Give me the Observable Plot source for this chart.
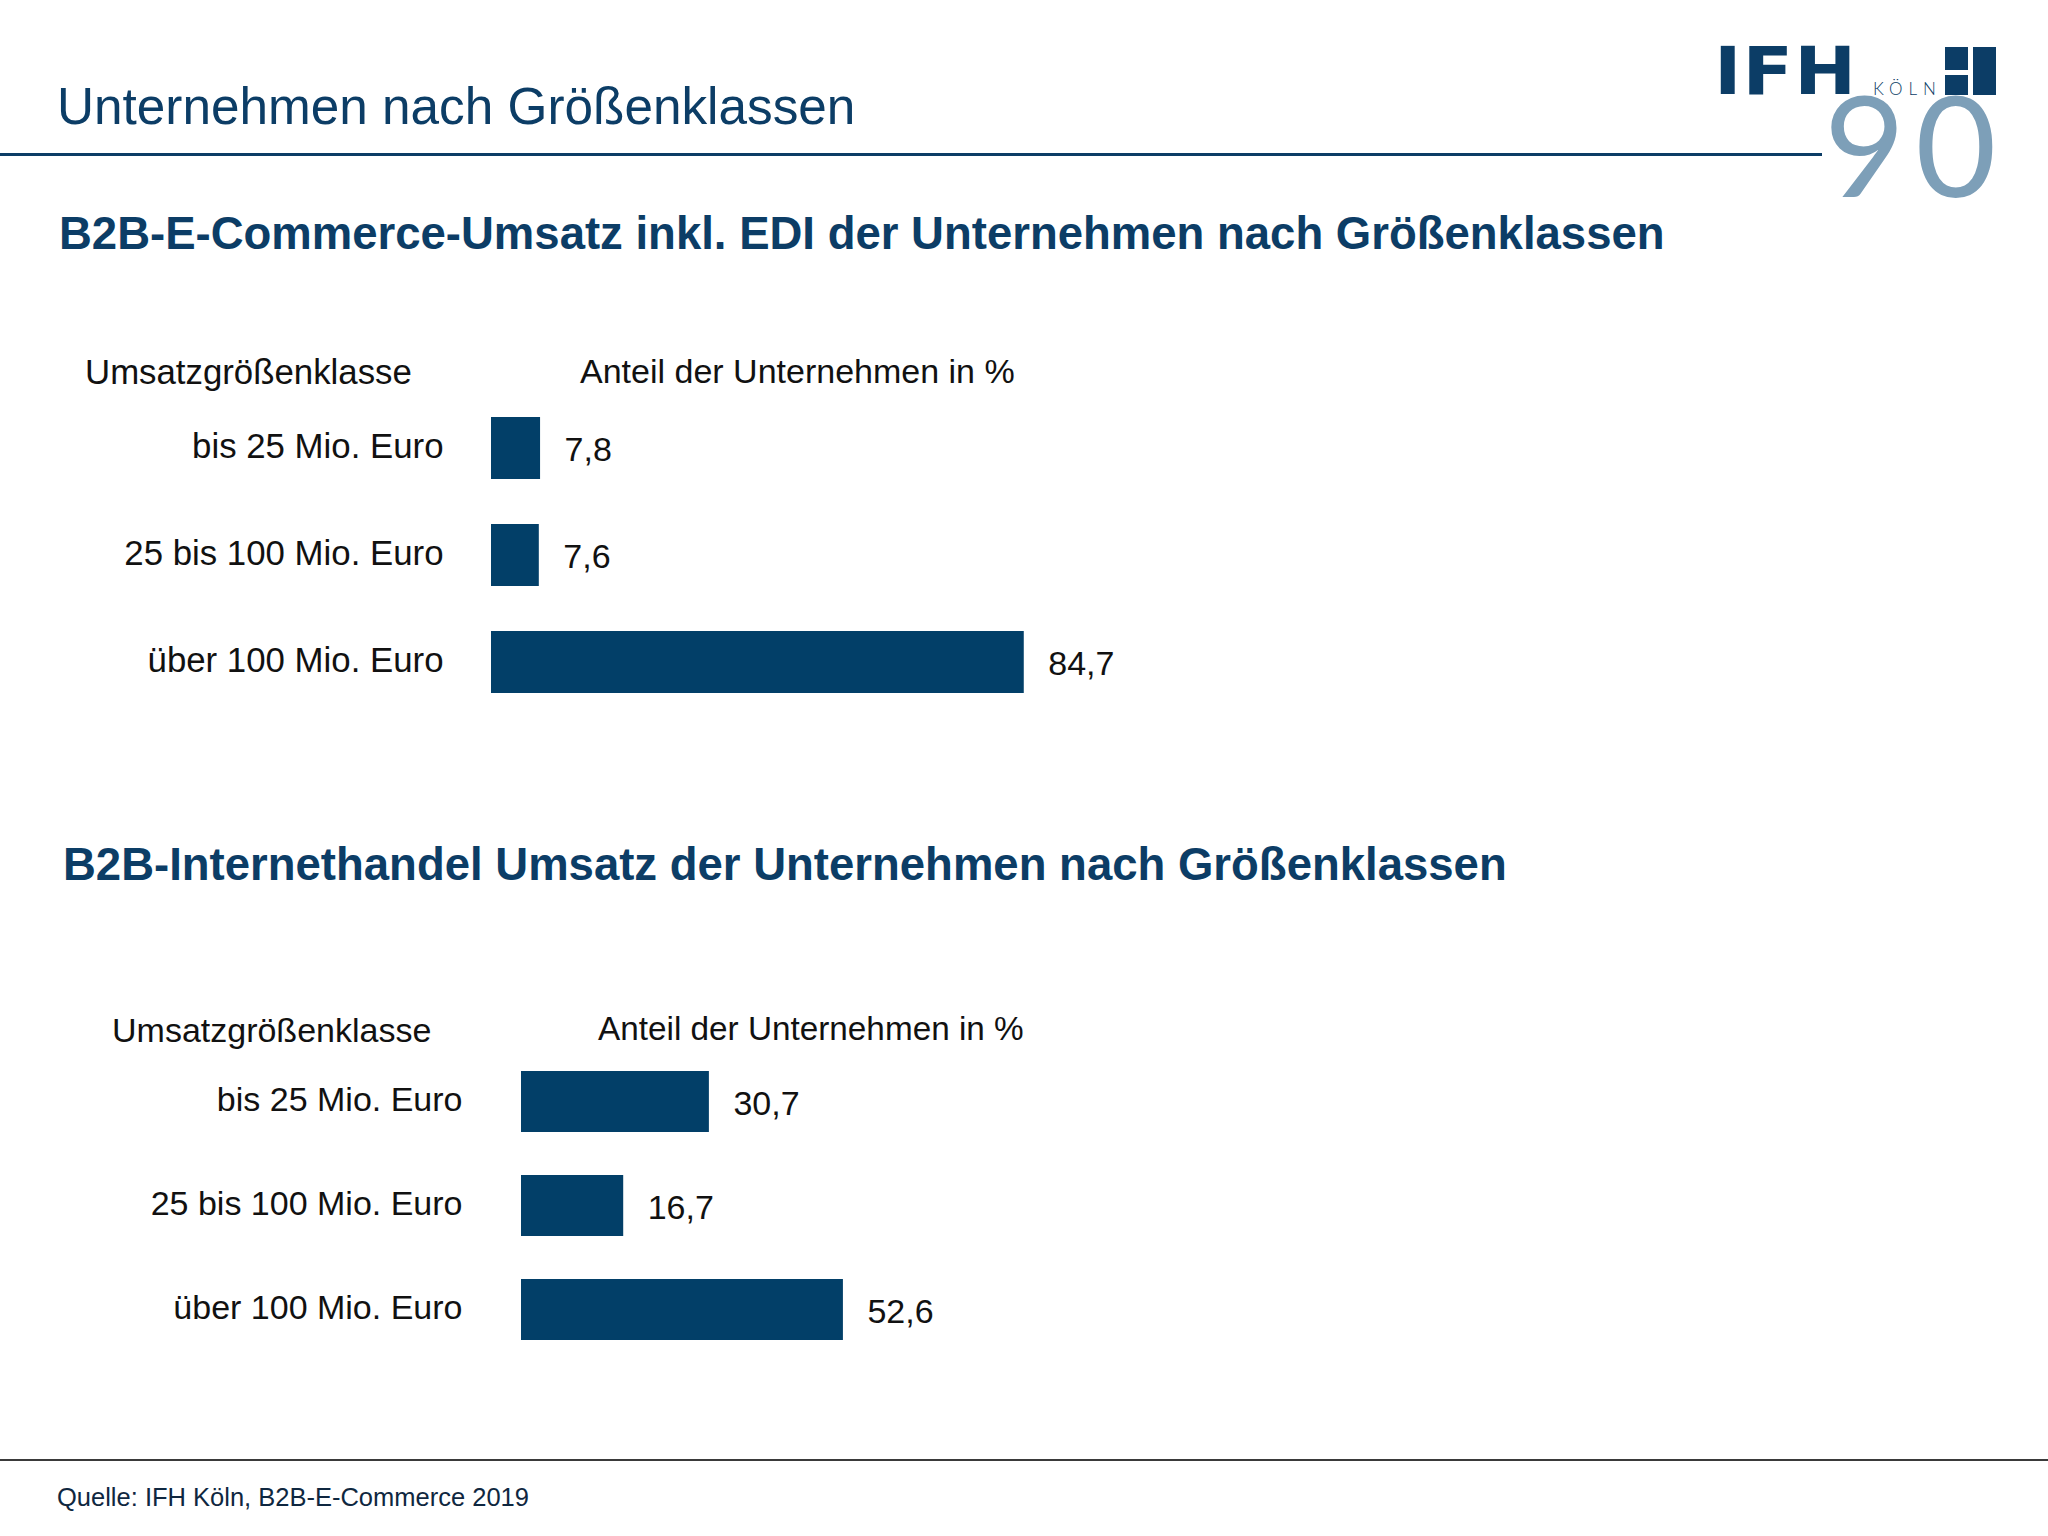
<!DOCTYPE html>
<html>
<head>
<meta charset="utf-8">
<script src="https://cdn.jsdelivr.net/npm/d3@7"></script>
<script src="https://cdn.jsdelivr.net/npm/@observablehq/plot@0.6"></script>
<style>
  html, body { margin: 0; padding: 0; background: #fff; }
  #page { position: relative; width: 2048px; height: 1536px; overflow: hidden; font-family: "Liberation Sans", Arial, sans-serif; }
  .abs { position: absolute; white-space: nowrap; line-height: 1; }
  .chart { position: absolute; left: 0; }
</style>
</head>
<body>
<div id="page"></div>
<script>
// ---- data ----
const pageTitle = "Unternehmen nach Größenklassen";
const title1 = "B2B-E-Commerce-Umsatz inkl. EDI der Unternehmen nach Größenklassen";
const title2 = "B2B-Internethandel Umsatz der Unternehmen nach Größenklassen";
const headerLeft = "Umsatzgrößenklasse";
const headerRight = "Anteil der Unternehmen in %";
const categories = ["bis 25 Mio. Euro", "25 bis 100 Mio. Euro", "über 100 Mio. Euro"];
const valuesEDI = [7.8, 7.6, 84.7];
const valuesInternet = [30.7, 16.7, 52.6];
const source = "Quelle: IFH Köln, B2B-E-Commerce 2019";

const navy = "#0c3d66";
const barColor = "#023f68";
const de = d3.formatLocale({decimal: ",", thousands: ".", grouping: [3], currency: ["", " €"]});
const fmt = de.format(".1f");

const page = document.getElementById("page");

function addText(txt, {left, baseline, size, weight = 400, color = "#111", family = null, spacing = null, lh = null, base = 0.8465, transform = null}) {
  const d = document.createElement("div");
  d.className = "abs";
  d.textContent = txt;
  d.style.left = left + "px";
  d.style.top = (baseline - base * size) + "px";
  d.style.fontSize = size + "px";
  d.style.fontWeight = weight;
  d.style.color = color;
  if (family) d.style.fontFamily = family;
  if (spacing) d.style.letterSpacing = spacing;
  if (lh) d.style.lineHeight = lh;
  if (transform) { d.style.transform = transform; d.style.transformOrigin = "0 0"; }
  page.appendChild(d);
  return d;
}
function addRule(left, top, width, h, color) {
  const d = document.createElement("div");
  d.style.cssText = `position:absolute;left:${left}px;top:${top}px;width:${width}px;height:${h}px;background:${color}`;
  page.appendChild(d);
}

function chart(values, opts) {
  const data = categories.map((c, i) => ({cat: c, value: values[i]}));
  const svg = Plot.plot({
    width: 1200,
    height: 420,
    marginLeft: opts.left,
    marginRight: opts.right,
    marginTop: opts.top,
    marginBottom: opts.bottom,
    x: {domain: [0, 100], axis: null},
    y: {domain: categories, padding: opts.padding, label: null},
    style: {background: "transparent", color: "#111", fontFamily: "'Liberation Sans', Arial, sans-serif"},
    marks: [
      Plot.barX(data, {x: "value", y: "cat", fill: barColor}),
      Plot.axisY({tickSize: 0, tickPadding: opts.tickPadding, fontSize: opts.fontSize, label: null, dy: -2}),
      Plot.text(data, {x: "value", y: "cat", text: d => fmt(d.value), dx: 24, dy: 2, textAnchor: "start", fontSize: 34, fill: "#111"})
    ]
  });
  svg.classList.add("chart");
  svg.style.top = opts.svgTop + "px";
  page.appendChild(svg);
}

// charts
chart(valuesEDI, {svgTop: 340, left: 491, right: 80, top: 32, bottom: 22, padding: 0.42, tickPadding: 48, fontSize: 34.8});
chart(valuesInternet, {svgTop: 990, left: 521, right: 67, top: 37, bottom: 25, padding: 0.41, tickPadding: 59, fontSize: 34});

// header & titles
addText(pageTitle, {left: 57, baseline: 124, size: 51.3, color: navy});
addRule(0, 153, 1822, 3, navy);
addText(title1, {left: 59, baseline: 250, size: 45.5, weight: 700, color: navy});
addText(title2, {left: 63, baseline: 881, size: 45.5, weight: 700, color: navy});

addText(headerLeft, {left: 85, baseline: 384, size: 34.8});
addText(headerRight, {left: 580, baseline: 383, size: 34});
addText(headerLeft, {left: 112, baseline: 1042, size: 34});
addText(headerRight, {left: 598, baseline: 1040, size: 33.3});

// footer
addRule(0, 1459, 2048, 2, "#3a3a3a");
addText(source, {left: 57, baseline: 1507, size: 25.5, color: "#0f2740"});

// logo
addText("90", {left: 1824, baseline: 197, size: 140, weight: 400, color: "#7d9fb8", family: "Lato, 'Open Sans', sans-serif", spacing: "10px", lh: 0.6, base: 0.687});
addText("IFH", {left: 1714, baseline: 95, size: 66, weight: 700, color: navy, family: "'DejaVu Sans', sans-serif", spacing: "1px", transform: "scaleX(1.12)"});
addText("KÖLN", {left: 1873, baseline: 94, size: 17, weight: 300, color: navy, family: "Lato, 'DejaVu Sans', sans-serif", spacing: "6px"});
const ns = "http://www.w3.org/2000/svg";
const mark = document.createElementNS(ns, "svg");
mark.setAttribute("width", 52); mark.setAttribute("height", 48);
mark.style.cssText = "position:absolute;left:1945px;top:47px";
[[0, 0, 23, 23], [0, 28, 23, 20], [28, 0, 23, 48]].forEach(([x, y, w, h]) => {
  const r = document.createElementNS(ns, "rect");
  r.setAttribute("x", x); r.setAttribute("y", y); r.setAttribute("width", w); r.setAttribute("height", h);
  r.setAttribute("fill", navy);
  mark.appendChild(r);
});
page.appendChild(mark);
</script>
</body>
</html>
